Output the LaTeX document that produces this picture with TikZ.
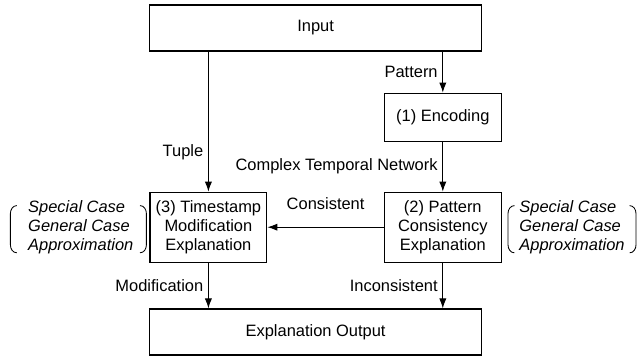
\documentclass[tikz,border=0pt]{standalone}
\usepackage{fontspec}
\setmainfont{Liberation Sans}
\usepackage{tikz}
\usetikzlibrary{arrows.meta}
\tikzset{every edge/.style={draw,
		-{Latex[length=2.5mm,width=1.8mm]},line width=0.7pt},
	every node/.style={font=\fontsize{11.7}{13.2}\selectfont}}
\tikzstyle{widebox}=[rectangle,draw=black!100,fill=white,line width=0.8pt,inner sep=1pt,minimum width=8.3cm,minimum height=1.15cm]
\tikzstyle{stepbox}=[rectangle,draw=black!100,fill=white,line width=0.8pt,inner sep=1pt,align=center,minimum width=2.92cm]
\tikzstyle{cases}=[align=left,inner sep=0pt,font=\fontsize{11.7}{13.2}\selectfont\itshape]
\tikzstyle{paren}=[line width=0.6pt]

\begin{document}
\begin{tikzpicture}
	\useasboundingbox (0,0) rectangle (16,9);
	\node at (7.89,8.3) [widebox] (in) {Input};
	\node at (11.07,6.07) [stepbox,minimum height=1.2cm] (enc) {(1) Encoding};
	\node at (5.21,3.32) [stepbox,minimum height=1.75cm] (ts) {(3) Timestamp\\Modification\\Explanation};
	\node at (11.07,3.32) [stepbox,minimum height=1.75cm] (pc) {(2) Pattern\\Consistency\\Explanation};
	\node at (7.89,0.7) [widebox] (out) {Explanation Output};
	\node at (2.02,3.32) [cases] (lcase) {Special Case\\General Case\\Approximation};
	\node at (14.3,3.32) [cases] (rcase) {Special Case\\General Case\\Approximation};
	% brackets round the cases
	\draw[paren] (0.42,3.86) to[out=180,in=90] (0.26,3.66) -- (0.26,2.88) to[out=-90,in=180] (0.42,2.68);
	\draw[paren] (3.5,3.86) to[out=0,in=90] (3.66,3.66) -- (3.66,2.88) to[out=-90,in=0] (3.5,2.68);
	\draw[paren] (12.86,3.86) to[out=180,in=90] (12.7,3.66) -- (12.7,2.88) to[out=-90,in=180] (12.86,2.68);
	\draw[paren] (15.74,3.86) to[out=0,in=90] (15.9,3.66) -- (15.9,2.88) to[out=-90,in=0] (15.74,2.68);
	\draw (ts.north |- in.south) edge node[left,pos=0.72] {Tuple} (ts.north);
	\draw (enc.north |- in.south) edge node[left] {Pattern} (enc.north);
	\draw (enc) edge node[left] {Complex Temporal Network} (pc);
	\draw (pc) edge node[above=0.3cm] {Consistent} (ts);
	\draw (ts.south) edge node[left] {Modification} (ts.south |- out.north);
	\draw (pc.south) edge node[left] {Inconsistent} (pc.south |- out.north);
	\end{tikzpicture}
\end{document}
